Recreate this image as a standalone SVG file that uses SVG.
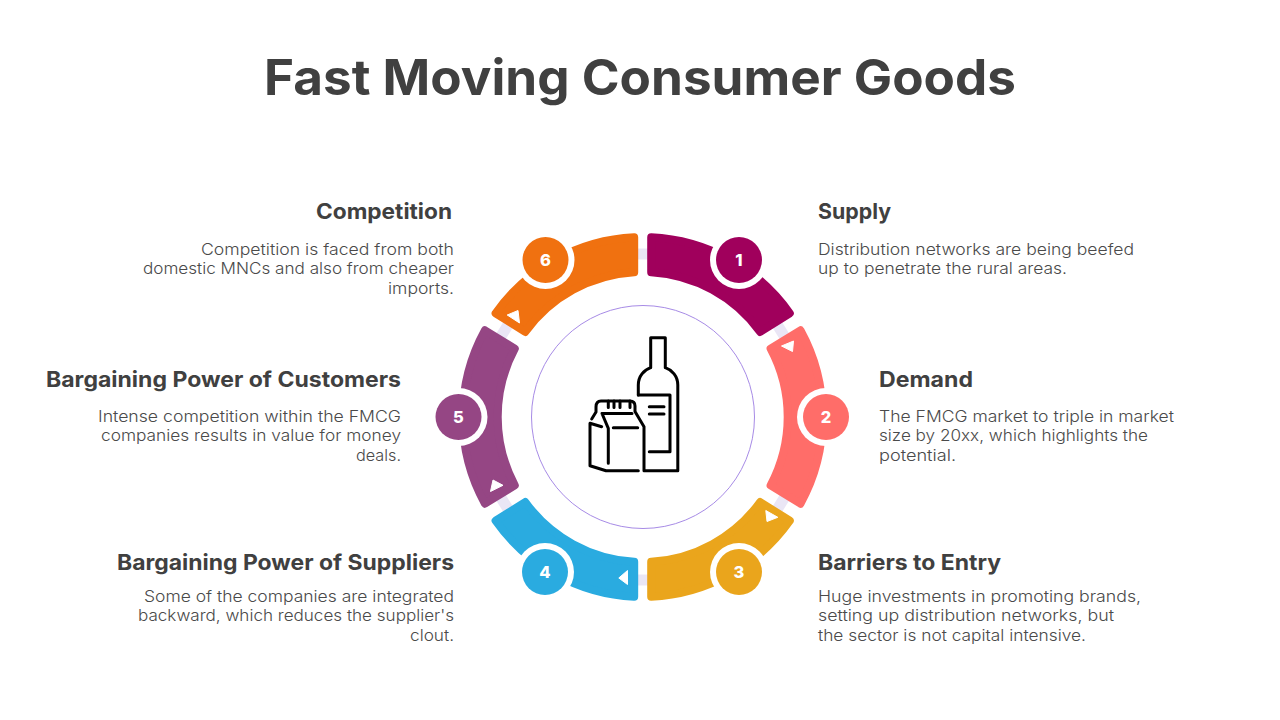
<svg xmlns="http://www.w3.org/2000/svg" width="1280" height="720" viewBox="0 0 1280 720">
<style>
text{font-family:Inter,"Open Sans","Liberation Sans",sans-serif}
.t{font-size:49px;font-weight:700;fill:#404040}
.h{font-size:21.5px;font-weight:700;fill:#404040}
.b{font-size:16px;font-weight:300;fill:#4a4a4a}
.n{font-size:16.5px;font-weight:800;fill:#fff;text-anchor:middle}
.seg{stroke-width:8;stroke-linejoin:round}
.halo{fill:#fff}
.tri{fill:#fff;stroke:#fff;stroke-width:1;stroke-linejoin:round}
.link{stroke:#eae6f5;stroke-width:11;fill:none}
.ic{fill:none;stroke:#000;stroke-width:3;stroke-linecap:round;stroke-linejoin:round}
</style>
<rect width="1280" height="720" fill="#fff"/>
<text id="title" class="t" x="264" y="95" textLength="752" lengthAdjust="spacingAndGlyphs">Fast Moving Consumer Goods</text>
<g id="connectors">
<line class="link" x1="634" y1="254" x2="652" y2="254"/>
<line class="link" x1="776.7" y1="323.8" x2="785.1" y2="337.4"/>
<line class="link" x1="776.7" y1="510.2" x2="785.1" y2="496.6"/>
<line class="link" x1="634" y1="580" x2="652" y2="580"/>
<line class="link" x1="508.7" y1="510.2" x2="500.3" y2="496.6"/>
<line class="link" x1="508.7" y1="323.8" x2="500.3" y2="337.4"/>
</g>
<circle id="inner-ring" cx="643" cy="417" r="111.5" fill="none" stroke="#a78be6" stroke-width="1"/>
<g id="icon">
<path class="ic" d="M638.3 395V385C638.3 376 644 370 650.7 367.7V337.7H665.3V367.7C672 370 677.8 376 677.8 385V470.7H644V426.7L635 411.5V406C635 403 633.5 401 630 401H601C597 401 596 404 596 407V412L591.7 419"/>
<path class="ic" d="M638.3 395H670V451.7H649.3M649.3 406.7H664M649.3 414H664"/>
<path class="ic" d="M602 413.5H632M602 413.500L608.300 428.300V463.300M613.300 427.700H637.700M590 423.300L601.700 426.700M590 423.300V465.700L606 470.700H638.300M608.300 401V407.500M614 401V407.500M620 401V407.500M630 401V407.500"/>
</g>
<g id="node-1">
<path class="seg" fill="#a0005c" stroke="#a0005c" d="M651.21 237.2A180 180 0 0 1 789.78 313.25L760.15 331.97A145 145 0 0 0 651.2 272.25Z"/>
<circle class="halo" cx="739" cy="260" r="29"/><circle cx="739" cy="260" r="23" fill="#a0005c"/>
<text class="n" x="739" y="266">1</text>
<text class="h" x="818" y="219" textLength="73" lengthAdjust="spacingAndGlyphs">Supply</text>
<text class="b" x="818" y="255" textLength="316" lengthAdjust="spacingAndGlyphs">Distribution networks are being beefed</text>
<text class="b" x="818" y="274" textLength="249" lengthAdjust="spacingAndGlyphs">up to penetrate the rural areas.</text>
</g>
<g id="node-2">
<path class="seg" fill="#ff6d69" stroke="#ff6d69" d="M800.43 330.28A180 180 0 0 1 800.43 503.72L770.6 485.3A145 145 0 0 0 770.6 348.7Z"/>
<polygon class="tri" points="781.5,346 793.5,341 792.5,351.5"/>
<circle class="halo" cx="826" cy="417" r="29"/><circle cx="826" cy="417" r="23" fill="#ff6d69"/>
<text class="n" x="826" y="423">2</text>
<text class="h" x="879" y="387" textLength="94" lengthAdjust="spacingAndGlyphs">Demand</text>
<text class="b" x="879" y="422" textLength="295" lengthAdjust="spacingAndGlyphs">The FMCG market to triple in market</text>
<text class="b" x="879" y="441" textLength="269" lengthAdjust="spacingAndGlyphs">size by 20xx, which highlights the</text>
<text class="b" x="879" y="461" textLength="77" lengthAdjust="spacingAndGlyphs">potential.</text>
</g>
<g id="node-3">
<path class="seg" fill="#eaa51c" stroke="#eaa51c" d="M789.78 520.75A180 180 0 0 1 651.21 596.8L651.2 561.75A145 145 0 0 0 760.15 502.03Z"/>
<polygon class="tri" points="765.8,510.5 777.8,517.3 767,521.5"/>
<circle class="halo" cx="739" cy="572" r="29"/><circle cx="739" cy="572" r="23" fill="#eaa51c"/>
<text class="n" x="739" y="578">3</text>
<text class="h" x="818" y="570" textLength="183" lengthAdjust="spacingAndGlyphs">Barriers to Entry</text>
<text class="b" x="818" y="602" textLength="323" lengthAdjust="spacingAndGlyphs">Huge investments in promoting brands,</text>
<text class="b" x="818" y="621" textLength="296" lengthAdjust="spacingAndGlyphs">setting up distribution networks, but</text>
<text class="b" x="818" y="641" textLength="268" lengthAdjust="spacingAndGlyphs">the sector is not capital intensive.</text>
</g>
<g id="node-4">
<path class="seg" fill="#2aabe0" stroke="#2aabe0" d="M634.19 596.8A180 180 0 0 1 495.62 520.75L525.25 502.03A145 145 0 0 0 634.2 561.75Z"/>
<polygon class="tri" points="618.8,578 627.5,570.5 627.5,584.5"/>
<circle class="halo" cx="545" cy="572" r="29"/><circle cx="545" cy="572" r="23" fill="#2aabe0"/>
<text class="n" x="545" y="578">4</text>
<text class="h" x="117" y="570" textLength="337" lengthAdjust="spacingAndGlyphs">Bargaining Power of Suppliers</text>
<text class="b" x="144" y="602" textLength="310" lengthAdjust="spacingAndGlyphs">Some of the companies are integrated</text>
<text class="b" x="138" y="621" textLength="316" lengthAdjust="spacingAndGlyphs">backward, which reduces the supplier's</text>
<text class="b" x="410" y="641" textLength="44" lengthAdjust="spacingAndGlyphs">clout.</text>
</g>
<g id="node-5">
<path class="seg" fill="#954684" stroke="#954684" d="M484.97 503.72A180 180 0 0 1 484.97 330.28L514.8 348.7A145 145 0 0 0 514.8 485.3Z"/>
<polygon class="tri" points="493,480 503,485.3 490.5,491.5"/>
<circle class="halo" cx="458.500" cy="417" r="29"/><circle cx="458.500" cy="417" r="23" fill="#954684"/>
<text class="n" x="458.500" y="423">5</text>
<text class="h" x="46" y="387" textLength="355" lengthAdjust="spacingAndGlyphs">Bargaining Power of Customers</text>
<text class="b" x="98" y="422" textLength="303" lengthAdjust="spacingAndGlyphs">Intense competition within the FMCG</text>
<text class="b" x="101" y="441" textLength="300" lengthAdjust="spacingAndGlyphs">companies results in value for money</text>
<text class="b" x="356" y="461" textLength="45" lengthAdjust="spacingAndGlyphs">deals.</text>
</g>
<g id="node-6">
<path class="seg" fill="#f07110" stroke="#f07110" d="M495.62 313.25A180 180 0 0 1 634.19 237.2L634.2 272.25A145 145 0 0 0 525.25 331.97Z"/>
<polygon class="tri" points="507.2,315 518,310.5 519.5,323"/>
<circle class="halo" cx="545.500" cy="260" r="29"/><circle cx="545.500" cy="260" r="23" fill="#f07110"/>
<text class="n" x="545.500" y="266">6</text>
<text class="h" x="316" y="219" textLength="136" lengthAdjust="spacingAndGlyphs">Competition</text>
<text class="b" x="201" y="255" textLength="253" lengthAdjust="spacingAndGlyphs">Competition is faced from both</text>
<text class="b" x="143" y="274" textLength="311" lengthAdjust="spacingAndGlyphs">domestic MNCs and also from cheaper</text>
<text class="b" x="388" y="294" textLength="66" lengthAdjust="spacingAndGlyphs">imports.</text>
</g>
</svg>
